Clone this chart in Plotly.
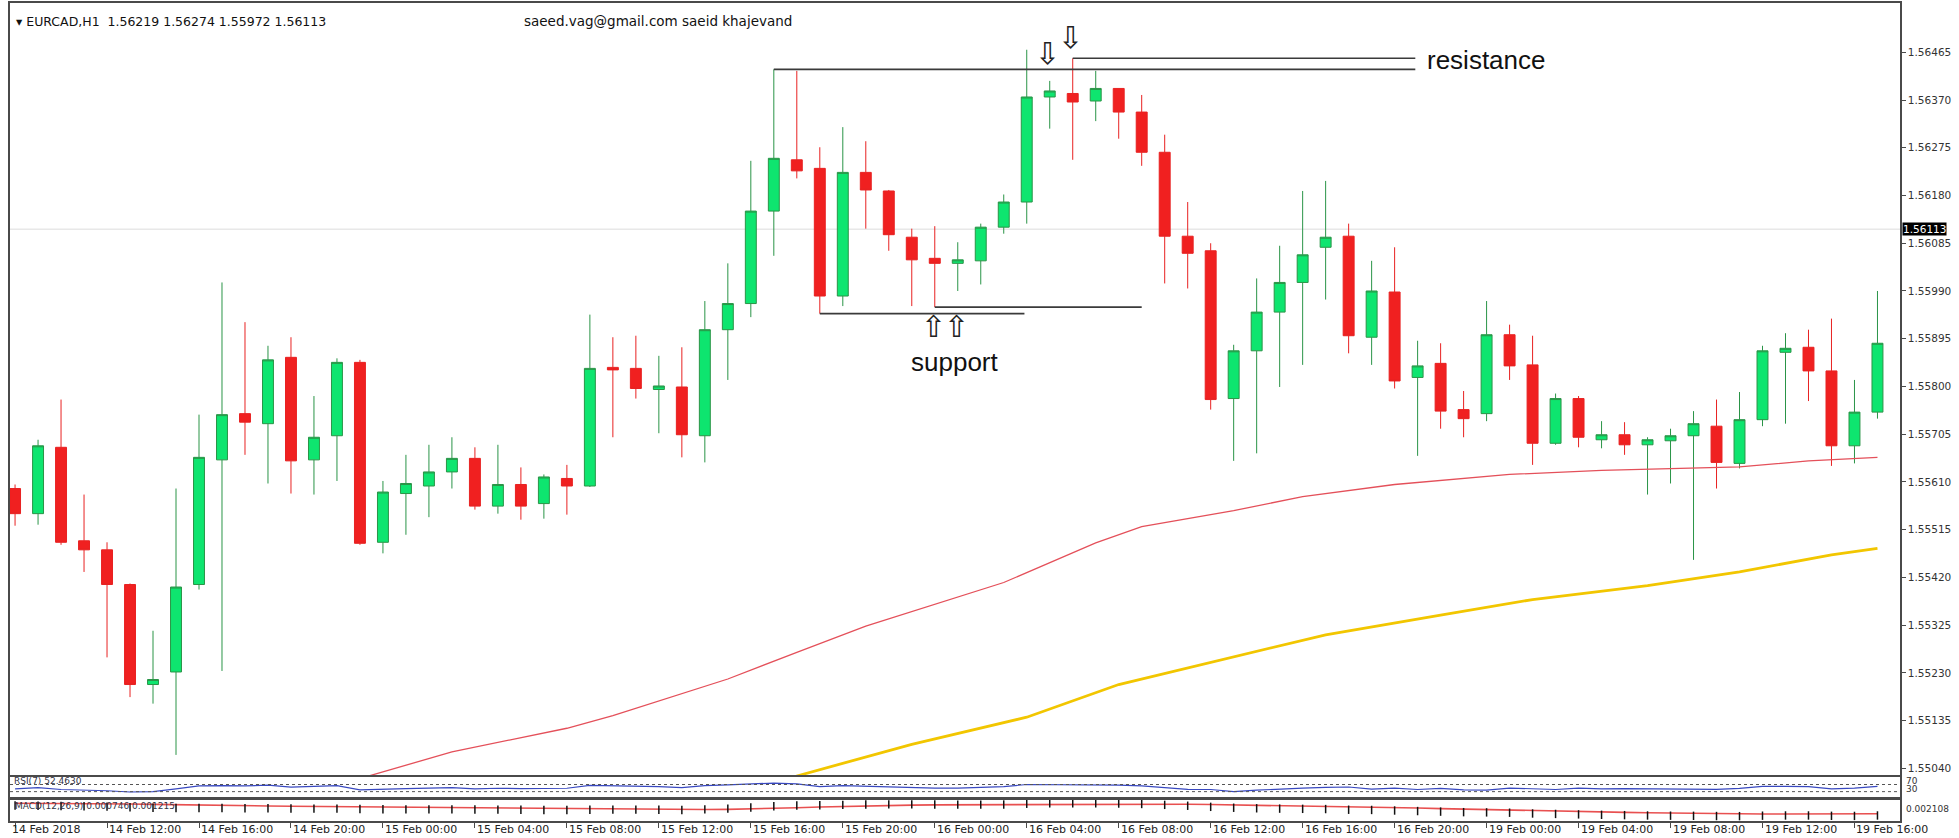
import plotly.graph_objects as go

# ---------------- data ----------------
bars = list(range(82))
opens = [1.55597,1.55547,1.55679,1.55493,1.55475,1.55406,1.55207,1.55232,1.55406,1.55654,
         1.55746,1.55726,1.55858,1.55654,1.55702,1.55848,1.55490,1.55587,1.55602,1.55630,
         1.55657,1.55562,1.55605,1.55567,1.55617,1.55602,1.55838,1.55836,1.55794,1.55799,
         1.55702,1.55913,1.55965,1.56149,1.56251,1.56234,1.55980,1.56226,1.56189,1.56097,
         1.56055,1.56045,1.56050,1.56117,1.56167,1.56376,1.56383,1.56368,1.56393,1.56346,
         1.56266,1.56099,1.56070,1.55776,1.55871,1.55948,1.56007,1.56077,1.56099,1.55898,
         1.55988,1.55818,1.55846,1.55754,1.55746,1.55903,1.55843,1.55687,1.55776,1.55694,
         1.55704,1.55684,1.55692,1.55702,1.55721,1.55647,1.55734,1.55868,1.55878,1.55831,
         1.55682,1.55749]
highs = [1.55605,1.55694,1.55774,1.55585,1.55490,1.55408,1.55314,1.55597,1.55744,1.56007,
         1.55928,1.55881,1.55898,1.55781,1.55856,1.55853,1.55612,1.55664,1.55684,1.55699,
         1.55679,1.55684,1.55639,1.55625,1.55644,1.55943,1.55898,1.55901,1.55861,1.55878,
         1.55970,1.56045,1.56249,1.56431,1.56428,1.56276,1.56316,1.56288,1.56191,1.56114,
         1.56119,1.56087,1.56124,1.56182,1.56470,1.56408,1.56453,1.56428,1.56393,1.56380,
         1.56301,1.56167,1.56085,1.55883,1.56015,1.56080,1.56189,1.56209,1.56124,1.56050,
         1.56077,1.55891,1.55886,1.55791,1.55970,1.55923,1.55901,1.55786,1.55781,1.55731,
         1.55729,1.55699,1.55716,1.55751,1.55774,1.55789,1.55881,1.55906,1.55913,1.55935,
         1.55813,1.55990]
lows = [1.55523,1.55525,1.55485,1.55431,1.55261,1.55182,1.55169,1.55067,1.55396,1.55234,
        1.55664,1.55607,1.55587,1.55585,1.55612,1.55485,1.55468,1.55505,1.55540,1.55597,
        1.55555,1.55547,1.55535,1.55537,1.55545,1.55600,1.55699,1.55776,1.55707,1.55659,
        1.55649,1.55813,1.55938,1.56060,1.56214,1.55945,1.55960,1.56114,1.56070,1.55960,
        1.55958,1.55990,1.56003,1.56104,1.56124,1.56313,1.56251,1.56328,1.56293,1.56239,
        1.56005,1.55995,1.55754,1.55652,1.55667,1.55799,1.55843,1.55973,1.55866,1.55843,
        1.55796,1.55662,1.55716,1.55699,1.55731,1.55813,1.55644,1.55684,1.55679,1.55677,
        1.55664,1.55585,1.55607,1.55455,1.55597,1.55637,1.55721,1.55726,1.55771,1.55642,
        1.55647,1.55736]
closes = [1.55547,1.55682,1.55490,1.55475,1.55406,1.55207,1.55217,1.55401,1.55659,1.55744,
          1.55729,1.55853,1.55652,1.55699,1.55848,1.55488,1.55590,1.55607,1.55630,1.55657,
          1.55562,1.55605,1.55562,1.55620,1.55602,1.55836,1.55833,1.55796,1.55801,1.55704,
          1.55913,1.55965,1.56149,1.56254,1.56229,1.55980,1.56226,1.56191,1.56102,1.56052,
          1.56045,1.56052,1.56117,1.56167,1.56376,1.56388,1.56366,1.56393,1.56346,1.56266,
          1.56099,1.56065,1.55774,1.55871,1.55948,1.56007,1.56062,1.56097,1.55901,1.55990,
          1.55811,1.55841,1.55751,1.55736,1.55903,1.55841,1.55687,1.55776,1.55699,1.55704,
          1.55684,1.55694,1.55702,1.55726,1.55649,1.55734,1.55871,1.55876,1.55831,1.55682,
          1.55749,1.55886]

ma_red_bars = [14, 15, 19, 24, 26, 31, 34, 37, 43, 47, 49, 53, 56, 60, 65, 69, 75, 78, 81]
ma_red = [1.55000, 1.55020, 1.55073, 1.55120, 1.55145, 1.55218, 1.55271, 1.55323, 1.55410,
          1.55489, 1.55521, 1.55553, 1.55581, 1.55605, 1.55625, 1.55633, 1.55640, 1.55652, 1.55659]
ma_yel_bars = [33, 34, 39, 44, 48, 53, 57, 62, 66, 71, 75, 79, 81]
ma_yel = [1.55005, 1.55025, 1.55088, 1.55142, 1.55207, 1.55262, 1.55306, 1.55345, 1.55376,
          1.55404, 1.55431, 1.55465, 1.55478]

rsi = [45,52,42,40,35,28,30,45,62,64,
       62,66,55,60,64,40,45,47,50,52,
       46,49,47,50,49,65,63,60,58,52,
       64,68,74,78,74,58,64,60,54,50,
       50,50,55,58,70,70,69,70,67,62,
       52,43,42,30,38,45,50,54,56,44,
       50,42,48,40,38,50,48,42,50,45,
       47,46,46,48,43,48,60,60,58,45,
       50,60]
macd_main = [0.00190,0.00188,0.00186,0.00184,0.00180,0.00175,0.00170,0.00168,0.00168,0.00168,
             0.00166,0.00165,0.00163,0.00162,0.00162,0.00158,0.00156,0.00155,0.00155,0.00155,
             0.00154,0.00153,0.00152,0.00150,0.00150,0.00152,0.00153,0.00153,0.00152,0.00150,
             0.00155,0.00162,0.00172,0.00183,0.00190,0.00192,0.00196,0.00199,0.00200,0.00200,
             0.00199,0.00198,0.00198,0.00199,0.00206,0.00210,0.00210,0.00210,0.00208,0.00204,
             0.00196,0.00188,0.00178,0.00170,0.00165,0.00162,0.00160,0.00158,0.00152,0.00150,
             0.00145,0.00140,0.00135,0.00130,0.00128,0.00125,0.00118,0.00114,0.00110,0.00106,
             0.00103,0.00100,0.00098,0.00097,0.00095,0.00094,0.00098,0.00100,0.00100,0.00097,
             0.00096,0.00100]
macd_signal = [0.00210,0.00210,0.00209,0.00208,0.00206,0.00204,0.00200,0.00196,0.00192,0.00190,
               0.00188,0.00186,0.00184,0.00182,0.00180,0.00178,0.00176,0.00174,0.00172,0.00170,
               0.00168,0.00166,0.00164,0.00162,0.00160,0.00158,0.00157,0.00156,0.00155,0.00154,
               0.00154,0.00155,0.00158,0.00163,0.00170,0.00176,0.00182,0.00187,0.00191,0.00194,
               0.00196,0.00197,0.00198,0.00199,0.00200,0.00202,0.00203,0.00204,0.00205,0.00205,
               0.00204,0.00202,0.00199,0.00196,0.00193,0.00190,0.00187,0.00184,0.00180,0.00176,
               0.00172,0.00167,0.00162,0.00157,0.00152,0.00148,0.00144,0.00140,0.00136,0.00132,
               0.00128,0.00124,0.00121,0.00119,0.00117,0.00115,0.00114,0.00114,0.00114,0.00114,
               0.00114,0.00115]

price_ticks = [1.55040, 1.55135, 1.55230, 1.55325, 1.55420, 1.55515, 1.55610, 1.55705,
               1.55800, 1.55895, 1.55990, 1.56085, 1.56180, 1.56275, 1.56370, 1.56465]
date_bars = [0, 4, 8, 12, 16, 20, 24, 28, 32, 36, 40, 44, 48, 52, 56, 60, 64, 68, 72, 76, 80]
date_labels = ["14 Feb 2018", "14 Feb 12:00", "14 Feb 16:00", "14 Feb 20:00", "15 Feb 00:00",
               "15 Feb 04:00", "15 Feb 08:00", "15 Feb 12:00", "15 Feb 16:00", "15 Feb 20:00",
               "16 Feb 00:00", "16 Feb 04:00", "16 Feb 08:00", "16 Feb 12:00", "16 Feb 16:00",
               "16 Feb 20:00", "19 Feb 00:00", "19 Feb 04:00", "19 Feb 08:00", "19 Feb 12:00",
               "19 Feb 16:00"]
current_price = 1.56113
header_ohlc = [1.56219, 1.56274, 1.55972, 1.56113]

# ---------------- figure ----------------
W, H = 1959, 838
def py(px):  # pixel row -> paper fraction
    return 1 - px / H

FONT = "DejaVu Sans"
FRAME = "#4a4a4a"

fig = go.Figure()
fig.add_trace(go.Candlestick(
    x=bars, open=opens, high=highs, low=lows, close=closes,
    increasing=dict(line=dict(color="#2a9447", width=1), fillcolor="#0ee56f"),
    decreasing=dict(line=dict(color="#e82222", width=1), fillcolor="#f02020"),
    whiskerwidth=0, showlegend=False, hoverinfo="skip", xaxis="x", yaxis="y"))
fig.add_trace(go.Scatter(x=ma_red_bars, y=ma_red, mode="lines", line=dict(color="#e4505a", width=1.3),
                         showlegend=False, hoverinfo="skip", xaxis="x", yaxis="y"))
fig.add_trace(go.Scatter(x=ma_yel_bars, y=ma_yel, mode="lines", line=dict(color="#f2c600", width=2.8),
                         showlegend=False, hoverinfo="skip", xaxis="x", yaxis="y"))
fig.add_trace(go.Scatter(x=bars, y=rsi, mode="lines", line=dict(color="#3848c0", width=1.2),
                         showlegend=False, hoverinfo="skip", xaxis="x2", yaxis="y2"))
fig.add_trace(go.Scatter(x=bars, y=macd_signal, mode="lines", line=dict(color="#e85050", width=1.6),
                         showlegend=False, hoverinfo="skip", xaxis="x3", yaxis="y3"))
fig.add_trace(go.Scatter(x=bars, y=macd_main, mode="markers",
                         marker=dict(symbol="line-ns", size=6, line=dict(color="#111", width=1.5)),
                         showlegend=False, hoverinfo="skip", xaxis="x3", yaxis="y3"))

xr = [-0.22, 81.98]
axis_common = dict(showgrid=False, zeroline=False, showline=True, mirror=True,
                   linecolor=FRAME, linewidth=1.5, range=xr, fixedrange=True)

layout = dict(
    width=W, height=H, paper_bgcolor="white", plot_bgcolor="white",
    margin=dict(l=10, r=59, t=0, b=0), showlegend=False, boxgap=0.32,
    xaxis=dict(axis_common, anchor="y", showticklabels=False, ticks="", rangeslider=dict(visible=False)),
    xaxis2=dict(axis_common, anchor="y2", showticklabels=False, ticks="", matches="x"),
    xaxis3=dict(axis_common, anchor="y3", showticklabels=False, ticks="outside", ticklen=5,
                tickcolor=FRAME, tickvals=date_bars, matches="x"),
    yaxis=dict(domain=[py(775), py(3)], side="right", range=[1.55027, 1.56563],
               tickvals=price_ticks, ticktext=[f"{v:.5f}" for v in price_ticks],
               ticks="outside", ticklen=4, tickcolor=FRAME,
               tickfont=dict(family=FONT, size=10.5, color="#333"),
               showgrid=False, zeroline=False, showline=True, mirror=True,
               linecolor=FRAME, linewidth=1.5, automargin=False),
    yaxis2=dict(domain=[py(797), py(777)], range=[0, 112], showticklabels=False, ticks="",
                showgrid=False, zeroline=False, showline=True, mirror=True,
                linecolor=FRAME, linewidth=1.5),
    yaxis3=dict(domain=[py(821), py(800)], range=[0.0005, 0.0024], showticklabels=False, ticks="",
                showgrid=False, zeroline=False, showline=True, mirror=True,
                linecolor=FRAME, linewidth=1.5),
)
fig.update_layout(**layout)

shapes = []
# current price line
shapes.append(dict(type="line", xref="x domain", yref="y", x0=0, x1=1, y0=current_price, y1=current_price,
                   line=dict(color="#dcdcdc", width=1), layer="below"))
# RSI levels
for lvl in (70, 30):
    shapes.append(dict(type="line", xref="x2 domain", yref="y2", x0=0, x1=1, y0=lvl, y1=lvl,
                       line=dict(color="#555", width=1, dash="dot")))
# resistance / support lines anchored at bar highs / lows
res_end = 60.9
shapes.append(dict(type="line", xref="x", yref="y", x0=33, x1=res_end, y0=highs[33], y1=highs[33],
                   line=dict(color="#3a3a3a", width=1.6)))
shapes.append(dict(type="line", xref="x", yref="y", x0=46, x1=res_end, y0=highs[46], y1=highs[46],
                   line=dict(color="#3a3a3a", width=1.6)))
shapes.append(dict(type="line", xref="x", yref="y", x0=35, x1=43.9, y0=lows[35], y1=lows[35],
                   line=dict(color="#3a3a3a", width=1.6)))
shapes.append(dict(type="line", xref="x", yref="y", x0=40, x1=49.0, y0=lows[40], y1=lows[40],
                   line=dict(color="#3a3a3a", width=1.6)))
fig.update_layout(shapes=shapes)

ann = []
ann.append(dict(xref="paper", yref="paper", x=0.0, y=py(21), xanchor="left", yanchor="middle",
                xshift=4, showarrow=False,
                text="▾ EURCAD,H1  " + " ".join(f"{v:.5f}" for v in header_ohlc),
                font=dict(family=FONT, size=12.5, color="#111")))
ann.append(dict(xref="paper", yref="paper", x=(522 - 10) / 1890, y=py(21), xanchor="left", yanchor="middle",
                showarrow=False, text="saeed.vag@gmail.com saeid khajevand",
                font=dict(family=FONT, size=13.5, color="#111")))
ann.append(dict(xref="paper", yref="y", x=1, y=current_price, xanchor="left", yanchor="middle",
                xshift=2, showarrow=False, text=f"{current_price:.5f}", bgcolor="#000",
                borderpad=0, font=dict(family=FONT, size=10.5, color="#fff")))
ann.append(dict(xref="x", yref="y", x=61.3, y=1.56450, xanchor="left", yanchor="middle", showarrow=False,
                text="resistance", font=dict(family="Liberation Sans", size=26, color="#111")))
ann.append(dict(xref="x", yref="y", x=38.9, y=1.55849, xanchor="left", yanchor="middle", showarrow=False,
                text="support", font=dict(family="Liberation Sans", size=26, color="#111")))
for xa, ya in ((44.9, 1.56462), (45.9, 1.56495)):
    ann.append(dict(xref="x", yref="y", x=xa, y=ya, xanchor="center", yanchor="middle", showarrow=False,
                    text="⇩", font=dict(family=FONT, size=30, color="#222")))
for xa in (39.95, 40.95):
    ann.append(dict(xref="x", yref="y", x=xa, y=1.55919, xanchor="center", yanchor="middle", showarrow=False,
                    text="⇧", font=dict(family=FONT, size=30, color="#222")))
# indicator captions
ann.append(dict(xref="paper", yref="paper", x=0, y=py(781), xanchor="left", yanchor="middle", xshift=2,
                showarrow=False, text="RSI(7) 52.4630", font=dict(family=FONT, size=9, color="#334")))
ann.append(dict(xref="paper", yref="paper", x=0, y=py(806), xanchor="left", yanchor="middle", xshift=3,
                showarrow=False, text="MACD(12,26,9) 0.000746 0.001215", font=dict(family=FONT, size=9, color="#334")))
ann.append(dict(xref="paper", yref="paper", x=1, y=py(781), xanchor="left", yanchor="middle", xshift=4,
                showarrow=False, text="70", font=dict(family=FONT, size=9, color="#333")))
ann.append(dict(xref="paper", yref="paper", x=1, y=py(789), xanchor="left", yanchor="middle", xshift=4,
                showarrow=False, text="30", font=dict(family=FONT, size=9, color="#333")))
ann.append(dict(xref="paper", yref="paper", x=1, y=py(809), xanchor="left", yanchor="middle", xshift=4,
                showarrow=False, text="0.002108", font=dict(family=FONT, size=9, color="#333")))
# date labels
for b, lab in zip(date_bars, date_labels):
    ann.append(dict(xref="x3", yref="paper", x=b, y=py(829), xanchor="left", yanchor="middle",
                    xshift=-5 if b == 0 else 0, showarrow=False, text=lab,
                    font=dict(family=FONT, size=11, color="#222")))
fig.update_layout(annotations=ann)

fig.write_html("out.html", config={"displayModeBar": False},
               post_script="document.body.style.margin='0';document.body.style.overflow='hidden';")
